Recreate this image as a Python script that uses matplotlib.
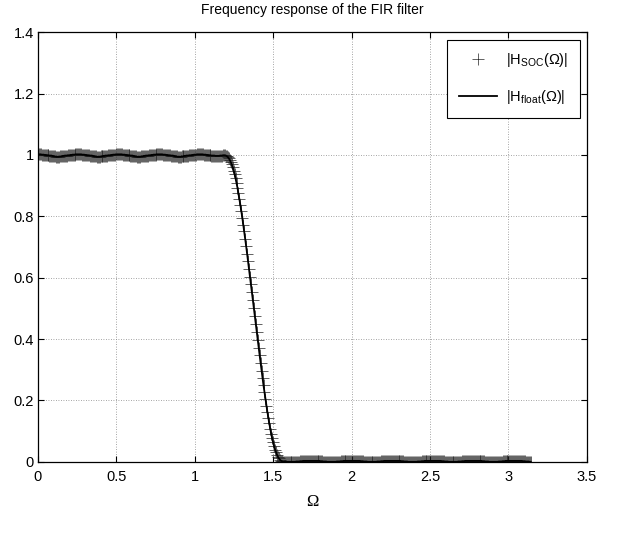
#!/usr/bin/env python3

import matplotlib
import numpy as np

matplotlib.use("Agg")
import matplotlib.pyplot as plt
from matplotlib.ticker import FuncFormatter

# 512 frequency samples on [0, pi]
N_SAMPLES = 512
OMEGA_MAX = np.pi

# |H(Omega)|: passband (samples 0..192)
passband = [
    1.002, 1.002, 1.002, 1.002, 1.001, 1.001, 1.001, 1.000, 1.000, 0.999, 0.999, 0.999, 0.998, 0.998,
    0.998, 0.997, 0.996, 0.995, 0.995, 0.994, 0.994, 0.994, 0.994, 0.995, 0.995, 0.996, 0.997, 0.997,
    0.998, 0.998, 0.998, 0.999, 0.999, 0.999, 1.000, 1.000, 1.001, 1.001, 1.001, 1.002, 1.002, 1.002,
    1.002, 1.002, 1.002, 1.002, 1.001, 1.001, 1.001, 1.000, 1.000, 0.999, 0.999, 0.999, 0.998, 0.998,
    0.998, 0.997, 0.996, 0.995, 0.995, 0.994, 0.994, 0.994, 0.994, 0.995, 0.995, 0.996, 0.997, 0.997,
    0.998, 0.998, 0.998, 0.999, 0.999, 0.999, 1.000, 1.000, 1.001, 1.001, 1.001, 1.002, 1.002, 1.002,
    1.002, 1.002, 1.002, 1.002, 1.001, 1.001, 1.001, 1.000, 1.000, 0.999, 0.999, 0.999, 0.998, 0.998,
    0.998, 0.997, 0.996, 0.995, 0.995, 0.994, 0.994, 0.994, 0.994, 0.995, 0.995, 0.996, 0.997, 0.997,
    0.998, 0.998, 0.998, 0.999, 0.999, 0.999, 1.000, 1.000, 1.001, 1.001, 1.001, 1.002, 1.002, 1.002,
    1.002, 1.002, 1.002, 1.002, 1.001, 1.001, 1.001, 1.000, 1.000, 0.999, 0.999, 0.999, 0.998, 0.998,
    0.998, 0.997, 0.996, 0.995, 0.995, 0.994, 0.994, 0.994, 0.994, 0.995, 0.995, 0.996, 0.997, 0.997,
    0.998, 0.998, 0.998, 0.999, 0.999, 0.999, 1.000, 1.000, 1.001, 1.001, 1.001, 1.002, 1.002, 1.002,
    1.002, 1.002, 1.002, 1.002, 1.001, 1.001, 1.001, 1.000, 1.000, 0.999, 0.999, 0.999, 0.998, 0.998,
    0.998, 0.998, 0.997, 0.997, 0.997, 0.997, 0.997, 0.998, 0.998, 0.998, 0.999,
]

# transition band (samples 193..255)
transition = [
    0.999, 0.999, 0.998, 0.996, 0.993, 0.989, 0.984, 0.977, 0.969, 0.960, 0.949, 0.937, 0.924, 0.909,
    0.893, 0.875, 0.857, 0.837, 0.817, 0.796, 0.773, 0.751, 0.727, 0.703, 0.678, 0.653, 0.628, 0.603,
    0.578, 0.552, 0.526, 0.500, 0.474, 0.448, 0.422, 0.397, 0.372, 0.347, 0.322, 0.297, 0.273, 0.249,
    0.227, 0.204, 0.183, 0.163, 0.143, 0.125, 0.107, 0.091, 0.076, 0.063, 0.051, 0.040, 0.031, 0.023,
    0.016, 0.011, 0.007, 0.004, 0.002, 0.001, 0.000,
]

# stopband (samples 256..511)
stopband = [
    0.001, 0.001, 0.000, 0.000, 0.000, 0.000, 0.000, 0.000, 0.000, 0.000, 0.000, 0.000, 0.001, 0.001,
    0.001, 0.001, 0.002, 0.002, 0.002, 0.003, 0.003, 0.003, 0.003, 0.003, 0.003, 0.003, 0.003, 0.003,
    0.003, 0.003, 0.003, 0.003, 0.003, 0.003, 0.003, 0.003, 0.003, 0.002, 0.002, 0.002, 0.001, 0.001,
    0.001, 0.001, 0.000, 0.000, 0.000, 0.000, 0.000, 0.000, 0.000, 0.000, 0.000, 0.000, 0.001, 0.001,
    0.001, 0.001, 0.002, 0.002, 0.002, 0.003, 0.003, 0.003, 0.003, 0.003, 0.003, 0.003, 0.003, 0.003,
    0.003, 0.003, 0.003, 0.003, 0.003, 0.003, 0.003, 0.003, 0.003, 0.002, 0.002, 0.002, 0.001, 0.001,
    0.001, 0.001, 0.000, 0.000, 0.000, 0.000, 0.000, 0.000, 0.000, 0.000, 0.000, 0.000, 0.001, 0.001,
    0.001, 0.001, 0.002, 0.002, 0.002, 0.003, 0.003, 0.003, 0.003, 0.003, 0.003, 0.003, 0.003, 0.003,
    0.003, 0.003, 0.003, 0.003, 0.003, 0.003, 0.003, 0.003, 0.003, 0.002, 0.002, 0.002, 0.001, 0.001,
    0.001, 0.001, 0.000, 0.000, 0.000, 0.000, 0.000, 0.000, 0.000, 0.000, 0.000, 0.000, 0.001, 0.001,
    0.001, 0.001, 0.002, 0.002, 0.002, 0.003, 0.003, 0.003, 0.003, 0.003, 0.003, 0.003, 0.003, 0.003,
    0.003, 0.003, 0.003, 0.003, 0.003, 0.003, 0.003, 0.003, 0.003, 0.002, 0.002, 0.002, 0.001, 0.001,
    0.001, 0.001, 0.000, 0.000, 0.000, 0.000, 0.000, 0.000, 0.000, 0.000, 0.000, 0.000, 0.001, 0.001,
    0.001, 0.001, 0.002, 0.002, 0.002, 0.003, 0.003, 0.003, 0.003, 0.003, 0.003, 0.003, 0.003, 0.003,
    0.003, 0.003, 0.003, 0.003, 0.003, 0.003, 0.003, 0.003, 0.003, 0.002, 0.002, 0.002, 0.001, 0.001,
    0.001, 0.001, 0.000, 0.000, 0.000, 0.000, 0.000, 0.000, 0.000, 0.000, 0.000, 0.000, 0.001, 0.001,
    0.001, 0.001, 0.002, 0.002, 0.002, 0.003, 0.003, 0.003, 0.003, 0.003, 0.003, 0.003, 0.003, 0.003,
    0.003, 0.003, 0.003, 0.003, 0.003, 0.003, 0.003, 0.003, 0.003, 0.002, 0.002, 0.002, 0.001, 0.001,
    0.001, 0.001, 0.000, 0.000,
]

x_ticks = [0, 0.5, 1, 1.5, 2, 2.5, 3, 3.5]
y_ticks = [0, 0.2, 0.4, 0.6, 0.8, 1.0, 1.2, 1.4]

label_soc = "|H$_\\mathregular{SOC}$(\u03a9)|"
label_float = "|H$_\\mathregular{float}$(\u03a9)|"


def main() -> int:
    plt.rcParams["font.family"] = ["Liberation Sans", "DejaVu Sans"]

    mag_float = np.array(passband + transition + stopband)
    mag_soc = mag_float.copy()
    omega = np.linspace(0, OMEGA_MAX, N_SAMPLES)

    fig = plt.figure(figsize=(6.31, 5.37), dpi=100)
    ax = fig.add_axes([0.06, 0.14, 0.87, 0.80])

    ax.plot(omega, mag_soc, ls="none", marker="+", ms=9, mew=0.5, color="#222222", label=label_soc)
    ax.plot(omega, mag_float, color="k", lw=1.3, label=label_float)

    ax.set_xlim(0, 3.5)
    ax.set_ylim(0, 1.4)
    ax.set_xticks(x_ticks)
    ax.set_yticks(y_ticks)
    fmt = FuncFormatter(lambda v, _: f"{v:g}")
    ax.xaxis.set_major_formatter(fmt)
    ax.yaxis.set_major_formatter(fmt)
    ax.tick_params(direction="in", top=True, right=True, length=4, width=0.8, labelsize=10.5)
    ax.tick_params(axis="x", pad=6)
    ax.tick_params(axis="y", pad=3)
    for s in ax.spines.values():
        s.set_linewidth(0.9)

    ax.grid(True, color="#888888", ls=(0, (1, 2)), lw=0.6)
    ax.set_axisbelow(True)

    ax.set_title("Frequency response of the FIR filter", fontsize=10, pad=13)
    ax.set_xlabel("\u03a9", family=["Liberation Serif", "DejaVu Serif"], fontsize=12, labelpad=7)

    leg = ax.legend(
        loc="upper right",
        fancybox=False,
        edgecolor="k",
        framealpha=1,
        fontsize=10.5,
        handlelength=2.6,
        handletextpad=0.6,
        borderaxespad=0.5,
        labelspacing=1.3,
        borderpad=0.8,
    )
    leg.get_frame().set_linewidth(0.8)

    fig.savefig("out.png", dpi=100)
    plt.close(fig)
    return 0


if __name__ == "__main__":
    raise SystemExit(main())
